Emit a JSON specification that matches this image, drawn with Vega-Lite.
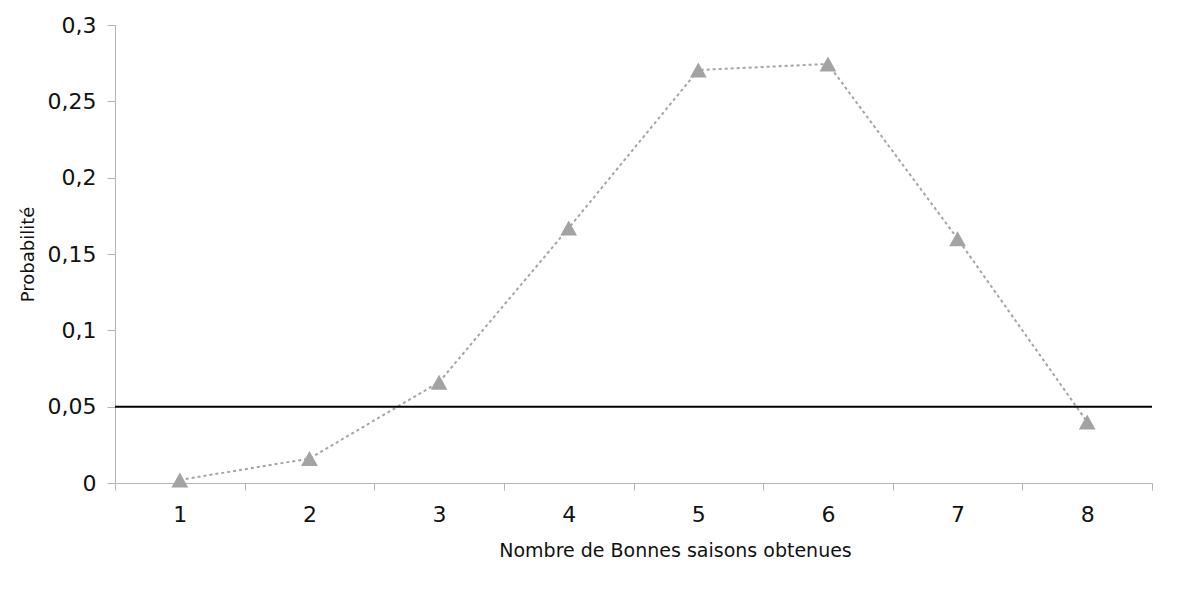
{
  "$schema": "https://vega.github.io/schema/vega-lite/v6.json",
  "width": 1037,
  "height": 458,
  "autosize": {"type": "none"},
  "padding": {"left": 115, "top": 25, "right": 46, "bottom": 113},
  "background": "white",
  "config": {
    "view": {"stroke": null},
    "font": "DejaVu Sans",
    "locale": {"number": {"decimal": ",", "thousands": " ", "grouping": [3], "currency": ["", " €"]}},
    "axis": {"labelFont": "DejaVu Sans", "titleFont": "DejaVu Sans", "labelColor": "#111", "titleColor": "#111", "domainColor": "#b4b4b4", "tickColor": "#b4b4b4", "grid": false, "titleFontWeight": "normal"}
  },
  "layer": [
    {
      "data": {"values": [
        {"saisons": "1", "proba": 0.002},
        {"saisons": "2", "proba": 0.016},
        {"saisons": "3", "proba": 0.066},
        {"saisons": "4", "proba": 0.167},
        {"saisons": "5", "proba": 0.2705},
        {"saisons": "6", "proba": 0.2745},
        {"saisons": "7", "proba": 0.160},
        {"saisons": "8", "proba": 0.040}
      ]},
      "layer": [
        {
          "mark": {"type": "line", "color": "#a4a4a4", "strokeWidth": 2, "strokeDash": [3, 3]},
          "encoding": {}
        },
        {
          "mark": {"type": "point", "shape": "M-1,0.9L1,0.9L0,-0.9Z", "filled": true, "color": "#a3a3a3", "opacity": 1, "size": 280},
          "encoding": {}
        }
      ],
      "encoding": {
        "x": {
          "field": "saisons", "type": "ordinal",
          "scale": {"type": "band", "paddingInner": 0, "paddingOuter": 0},
          "axis": {"title": "Nombre de Bonnes saisons obtenues", "titleFontSize": 19, "titlePadding": 16, "titleX": 560, "titleAlign": "center", "labelFontSize": 22, "labelAngle": 0, "labelPadding": 14, "tickSize": 7, "tickBand": "extent"}
        },
        "y": {
          "field": "proba", "type": "quantitative",
          "scale": {"domain": [0, 0.3], "nice": false},
          "axis": {"title": "Probabilité", "titleFontSize": 18, "titlePadding": 10, "values": [0, 0.05, 0.1, 0.15, 0.2, 0.25, 0.3], "format": ".2~f", "labelFontSize": 22, "labelPadding": 11, "tickSize": 8}
        }
      }
    },
    {
      "data": {"values": [{"seuil": 0.05}]},
      "mark": {"type": "rule", "color": "#000", "strokeWidth": 2},
      "encoding": {"y": {"field": "seuil", "type": "quantitative"}}
    }
  ]
}
